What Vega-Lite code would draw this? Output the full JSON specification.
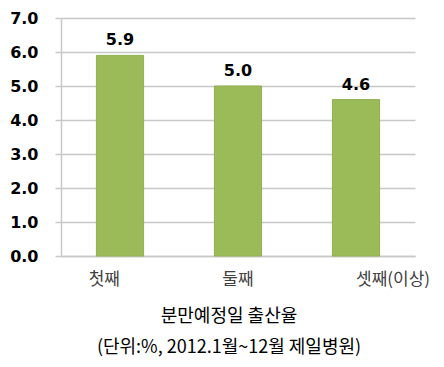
{
  "$schema": "https://vega.github.io/schema/vega-lite/v6.json",
  "width": 354,
  "height": 238,
  "autosize": "none",
  "padding": {"left": 61, "top": 18, "right": 29, "bottom": 111},
  "background": "white",
  "data": {"values": [
    {"order": "첫째", "rate": 5.9},
    {"order": "둘째", "rate": 5.0},
    {"order": "셋째(이상)", "rate": 4.6}
  ]},
  "title": {
    "text": ["분만예정일 출산율", "(단위:%, 2012.1월~12월 제일병원)"],
    "orient": "bottom",
    "anchor": "middle",
    "font": "Noto Sans CJK KR",
    "fontSize": 18,
    "fontWeight": "normal",
    "color": "black",
    "lineHeight": 31,
    "offset": 21,
    "dx": -9
  },
  "config": {"view": {"stroke": null}},
  "encoding": {
    "x": {
      "field": "order", "type": "nominal", "sort": null,
      "scale": {"paddingInner": 0.6, "paddingOuter": 0.3},
      "axis": {
        "title": null, "labelAngle": 0, "ticks": false, "domain": true,
        "domainColor": "#c8c8c8", "domainWidth": 1.5,
        "labelFont": "Noto Sans CJK KR", "labelFontSize": 17, "labelColor": "#404040",
        "labelPadding": 15, "labelOverlap": false, "labelBound": false,
        "labelAlign": {"condition": [
          {"test": "datum.value == '첫째'", "value": "right"},
          {"test": "datum.value == '셋째(이상)'", "value": "left"}
        ], "value": "center"}
      }
    },
    "y": {
      "field": "rate", "type": "quantitative",
      "scale": {"domain": [0, 7], "nice": false},
      "axis": {
        "title": null, "values": [0,1,2,3,4,5,6,7], "format": ".1f",
        "grid": true, "gridColor": "#c8c8c8", "gridWidth": 1.5,
        "domain": true, "domainColor": "#c8c8c8", "domainWidth": 1.5,
        "ticks": true, "tickSize": 6, "tickColor": "#c8c8c8", "tickWidth": 1.5,
        "labelFont": "DejaVu Sans", "labelFontWeight": "bold", "labelFontSize": 16,
        "labelColor": "black", "labelPadding": 17
      }
    }
  },
  "layer": [
    {"mark": {"type": "bar", "color": "#9BBB59", "stroke": "#8fb050", "strokeWidth": 1}},
    {"mark": {"type": "text", "dy": -15, "font": "DejaVu Sans", "fontWeight": "bold", "fontSize": 16, "color": "black"},
     "encoding": {"text": {"field": "rate", "type": "quantitative", "format": ".1f"}}}
  ]
}
